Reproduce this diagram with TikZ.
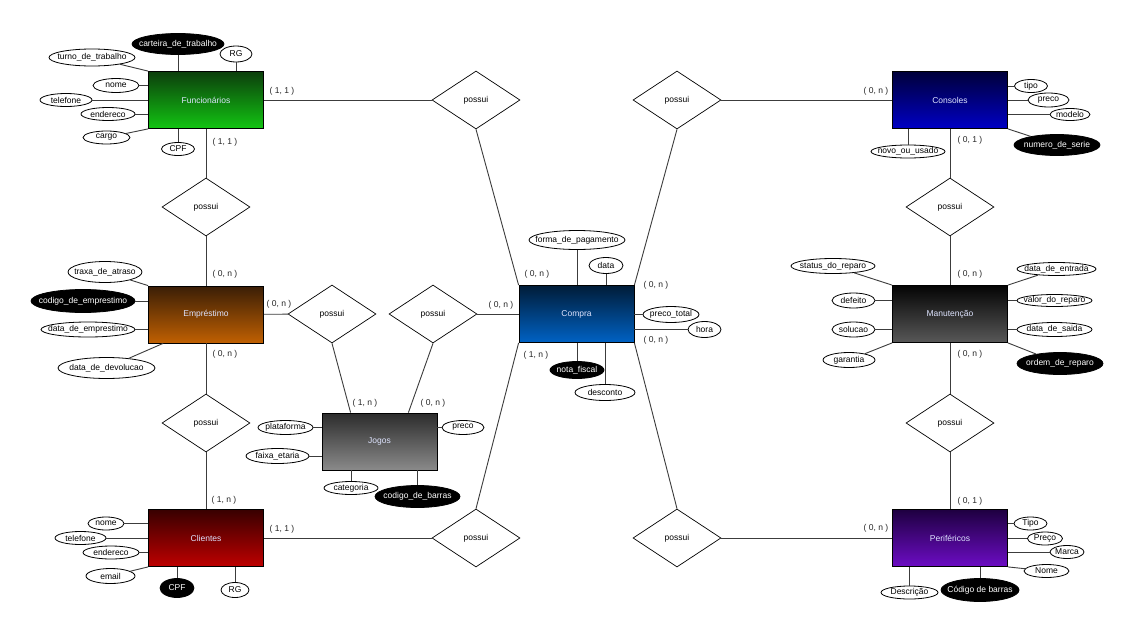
\documentclass[tikz,border=0pt]{standalone}
\usepackage{fontspec}
\setmainfont{Liberation Sans}
\usetikzlibrary{shapes.geometric}

% entity gradients (top / bottom)
\definecolor{funA}{RGB}{12,62,12}
\definecolor{funB}{RGB}{18,196,18}
\definecolor{empA}{RGB}{58,30,6}
\definecolor{empB}{RGB}{192,96,2}
\definecolor{cliA}{RGB}{56,0,0}
\definecolor{cliB}{RGB}{190,0,0}
\definecolor{jogA}{RGB}{44,44,44}
\definecolor{jogB}{RGB}{138,138,138}
\definecolor{comA}{RGB}{0,28,56}
\definecolor{comB}{RGB}{0,98,196}
\definecolor{conA}{RGB}{0,0,58}
\definecolor{conB}{RGB}{0,0,196}
\definecolor{manA}{RGB}{4,4,4}
\definecolor{manB}{RGB}{88,88,88}
\definecolor{perA}{RGB}{30,0,64}
\definecolor{perB}{RGB}{108,12,196}
\definecolor{enttext}{RGB}{222,228,255}
\definecolor{linkgray}{RGB}{60,60,60}

\tikzset{
  ent/.style={draw=black, line width=0.8pt, minimum width=115pt, minimum height=57pt,
              inner sep=0pt, text=enttext},
  rel/.style={diamond, draw=black, line width=0.7pt, fill=white,
              minimum width=88pt, minimum height=58pt, inner sep=0pt},
  att/.style 2 args={ellipse, draw=black, line width=0.8pt, fill=white,
              inner xsep=-30pt, inner ysep=-8pt,
              minimum width=#1pt+4pt, minimum height=#2pt+1pt},
  katt/.style 2 args={att={#1}{#2}, fill=black, text=white},
  card/.style={text=black!85, inner sep=0pt},
  link/.style={draw=linkgray, line width=0.9pt},
}

\begin{document}
\begin{tikzpicture}[x=1pt, y=-1pt, font=\fontsize{8.5}{10}\selectfont]
\useasboundingbox (0,0) rectangle (1146,629);
\fill[white] (0,0) rectangle (1146,629);

% ---------- entities ----------
\node[ent, top color=funA, bottom color=funB] (fun) at (206,100) {Funcionários};
\node[ent, top color=empA, bottom color=empB] (emp) at (206,314.5) {Empréstimo};
\node[ent, top color=cliA, bottom color=cliB] (cli) at (206,538) {Clientes};
\node[ent, top color=jogA, bottom color=jogB] (jog) at (379.5,441.5) {Jogos};
\node[ent, top color=comA, bottom color=comB] (com) at (576.5,314) {Compra};
\node[ent, top color=conA, bottom color=conB] (con) at (950,100) {Consoles};
\node[ent, top color=manA, bottom color=manB] (man) at (950,314) {Manutenção};
\node[ent, top color=perA, bottom color=perB] (per) at (950,538) {Periféricos};

% ---------- relationships ----------
\node[rel] (rfc) at (476,100) {possui};
\node[rel] (rfe) at (206,207) {possui};
\node[rel] (rec) at (206,423) {possui};
\node[rel] (rej) at (332,314) {possui};
\node[rel] (rjc) at (433,314) {possui};
\node[rel] (rcc) at (476,538) {possui};
\node[rel] (rkc) at (677,100) {possui};
\node[rel] (rkm) at (950,207) {possui};
\node[rel] (rmp) at (950,423) {possui};
\node[rel] (rpc) at (677,538) {possui};

% ---------- relationship links ----------
\draw[link] (fun) -- (rfc);
\draw[link] (rfc.south) -- (com.north west);
\draw[link] (fun) -- (rfe);
\draw[link] (rfe) -- (emp);
\draw[link] (emp) -- (rec);
\draw[link] (rec) -- (cli);
\draw[link] (emp) -- (rej);
\draw[link] (rej.south) -- ([xshift=29pt]jog.north west);
\draw[link] (rjc.south) -- ([xshift=-29pt]jog.north east);
\draw[link] (rjc) -- (com);
\draw[link] (cli) -- (rcc);
\draw[link] (rcc.north) -- (com.south west);
\draw[link] (con) -- (rkc);
\draw[link] (rkc.south) -- (com.north east);
\draw[link] (con) -- (rkm);
\draw[link] (rkm) -- (man);
\draw[link] (man) -- (rmp);
\draw[link] (rmp) -- (per);
\draw[link] (per) -- (rpc);
\draw[link] (rpc.north) -- (com.south east);

% ---------- cardinalities ----------
\node[card] (k01) at (282,91)  {( 1, 1 )};
\node[card] (k02) at (225,142) {( 1, 1 )};
\node[card] (k03) at (225,274) {( 0, n )};
\node[card] (k04) at (279,304) {( 0, n )};
\node[card] (k05) at (225,354) {( 0, n )};
\node[card] (k06) at (224,500) {( 1, n )};
\node[card] (k07) at (282,529) {( 1, 1 )};
\node[card] (k08) at (365,403) {( 1, n )};
\node[card] (k09) at (433,403) {( 0, n )};
\node[card] (k10) at (501,305) {( 0, n )};
\node[card] (k11) at (537,274) {( 0, n )};
\node[card] (k12) at (656,285) {( 0, n )};
\node[card] (k13) at (656,340) {( 0, n )};
\node[card] (k14) at (536,355) {( 1, n )};
\node[card] (k15) at (876,91)  {( 0, n )};
\node[card] (k16) at (970,140) {( 0, 1 )};
\node[card] (k17) at (970,274) {( 0, n )};
\node[card] (k18) at (970,354) {( 0, n )};
\node[card] (k19) at (970,501) {( 0, 1 )};
\node[card] (k20) at (876,528) {( 0, n )};

% ---------- attributes: Funcionários ----------
\node[katt={88}{20}] (f_ct) at (178,44) {carteira\_de\_trabalho};
\node[att={28}{15}] (f_rg) at (236,54) {RG};
\node[att={82}{16}] (f_tt) at (92,57.5) {turno\_de\_trabalho};
\node[att={42}{13}] (f_no) at (116,85.5) {nome};
\node[att={48}{12}] (f_te) at (66,100) {telefone};
\node[att={50}{12}] (f_en) at (108,114) {endereco};
\node[att={43}{12}] (f_ca) at (106.5,137.5) {cargo};
\node[att={29}{12}] (f_cpf) at (178,149) {CPF};
\draw[link] (f_ct) -- (f_ct |- fun.north);
\draw[link] (f_rg) -- (f_rg |- fun.north);
\draw[link] (f_tt) -- (fun.north west);
\draw[link] (f_no) -- (f_no -| fun.west);
\draw[link] (f_te) -- (f_te -| fun.west);
\draw[link] (f_en) -- (f_en -| fun.west);
\draw[link] (f_ca) -- (fun.south west);
\draw[link] (f_cpf) -- (f_cpf |- fun.south);

% ---------- attributes: Empréstimo ----------
\node[att={70}{20}] (e_ta) at (105,272) {traxa\_de\_atraso};
\node[katt={100}{22}] (e_co) at (83,301) {codigo\_de\_emprestimo};
\node[att={90}{14}] (e_de) at (88,329.5) {data\_de\_emprestimo};
\node[att={93}{20}] (e_dv) at (106.5,368) {data\_de\_devolucao};
\draw[link] (e_ta) -- (emp.north west);
\draw[link] (e_co) -- (e_co -| emp.west);
\draw[link] (e_de) -- (e_de -| emp.west);
\draw[link] (e_dv) -- ([xshift=15pt]emp.south west);

% ---------- attributes: Clientes ----------
\node[att={32}{12}] (c_no) at (106,523.5) {nome};
\node[att={47}{12}] (c_te) at (80.5,538) {telefone};
\node[att={52}{12}] (c_en) at (111,552.5) {endereco};
\node[att={45}{14}] (c_em) at (110.5,576) {email};
\node[katt={30}{18}] (c_cpf) at (177,588) {CPF};
\node[att={24}{14}] (c_rg) at (235,590) {RG};
\draw[link] (c_no) -- (c_no -| cli.west);
\draw[link] (c_te) -- (c_te -| cli.west);
\draw[link] (c_en) -- (c_en -| cli.west);
\draw[link] (c_em) -- (cli.south west);
\draw[link] (c_cpf) -- (c_cpf |- cli.south);
\draw[link] (c_rg) -- (c_rg |- cli.south);

% ---------- attributes: Jogos ----------
\node[att={51}{13}] (j_pl) at (285.5,427.5) {plataforma};
\node[att={59}{14}] (j_fe) at (277.5,456) {faixa\_etaria};
\node[att={38}{13}] (j_pr) at (463,427.5) {preco};
\node[att={50}{12}] (j_ca) at (351,488) {categoria};
\node[katt={81}{21}] (j_cb) at (417.5,496.5) {codigo\_de\_barras};
\draw[link] (j_pl) -- (j_pl -| jog.west);
\draw[link] (j_fe) -- (j_fe -| jog.west);
\draw[link] (j_pr) -- (j_pr -| jog.east);
\draw[link] (j_ca) -- (j_ca |- jog.south);
\draw[link] (j_cb) -- (j_cb |- jog.south);

% ---------- attributes: Compra ----------
\node[att={92}{18}] (p_fp) at (577,240) {forma\_de\_pagamento};
\node[att={30}{15}] (p_da) at (606,265.5) {data};
\node[att={52}{15}] (p_pt) at (671,314.5) {preco\_total};
\node[att={29}{15}] (p_ho) at (704.5,329.5) {hora};
\node[katt={50}{16}] (p_nf) at (577,370) {nota\_fiscal};
\node[att={56}{15}] (p_de) at (605,392.5) {desconto};
\draw[link] (p_fp) -- (p_fp |- com.north);
\draw[link] (p_da) -- (p_da |- com.north);
\draw[link] (p_pt) -- (p_pt -| com.east);
\draw[link] (p_ho) -- (p_ho -| com.east);
\draw[link] (p_nf) -- (p_nf |- com.south);
\draw[link] (p_de) -- (p_de |- com.south);

% ---------- attributes: Consoles ----------
\node[att={29}{12}] (k_ti) at (1031,86) {tipo};
\node[att={37}{13}] (k_pr) at (1048.5,100) {preco};
\node[att={36}{11}] (k_mo) at (1070,114.5) {modelo};
\node[katt={82}{20}] (k_ns) at (1057,145) {numero\_de\_serie};
\node[att={70}{12}] (k_nu) at (908,151.5) {novo\_ou\_usado};
\draw[link] (k_ti) -- (k_ti -| con.east);
\draw[link] (k_pr) -- (k_pr -| con.east);
\draw[link] (k_mo) -- (k_mo -| con.east);
\draw[link] (k_ns) -- (con.south east);
\draw[link] (k_nu) -- (k_nu |- con.south);

% ---------- attributes: Manutenção ----------
\node[att={80}{14}] (m_st) at (833,266) {status\_do\_reparo};
\node[att={39}{14}] (m_df) at (853.5,300.5) {defeito};
\node[att={39}{14}] (m_so) at (853.5,329.5) {solucao};
\node[att={48}{14}] (m_ga) at (849,360) {garantia};
\node[att={75}{12}] (m_en) at (1056.5,269) {data\_de\_entrada};
\node[att={71}{11}] (m_vr) at (1054.5,300.5) {valor\_do\_reparo};
\node[att={71}{13}] (m_sa) at (1054.5,329.5) {data\_de\_saida};
\node[katt={82}{21}] (m_or) at (1060,363.5) {ordem\_de\_reparo};
\draw[link] (m_st) -- (man.north west);
\draw[link] (m_df) -- (m_df -| man.west);
\draw[link] (m_so) -- (m_so -| man.west);
\draw[link] (m_ga) -- (man.south west);
\draw[link] (m_en) -- (man.north east);
\draw[link] (m_vr) -- (m_vr -| man.east);
\draw[link] (m_sa) -- (m_sa -| man.east);
\draw[link] (m_or) -- (man.south east);

% ---------- attributes: Periféricos ----------
\node[att={29}{12}] (q_ti) at (1030.5,523.5) {Tipo};
\node[att={31}{12}] (q_pr) at (1045,538.5) {Preço};
\node[att={30}{12}] (q_ma) at (1067,552) {Marca};
\node[att={41}{12}] (q_no) at (1046.5,571) {Nome};
\node[att={53}{12}] (q_ds) at (909.5,592.5) {Descrição};
\node[katt={74}{22}] (q_cb) at (980,590) {Código de barras};
\draw[link] (q_ti) -- (q_ti -| per.east);
\draw[link] (q_pr) -- (q_pr -| per.east);
\draw[link] (q_ma) -- (q_ma -| per.east);
\draw[link] (q_no) -- (per.south east);
\draw[link] (q_ds) -- (q_ds |- per.south);
\draw[link] (q_cb) -- (q_cb |- per.south);

\end{tikzpicture}
\end{document}
